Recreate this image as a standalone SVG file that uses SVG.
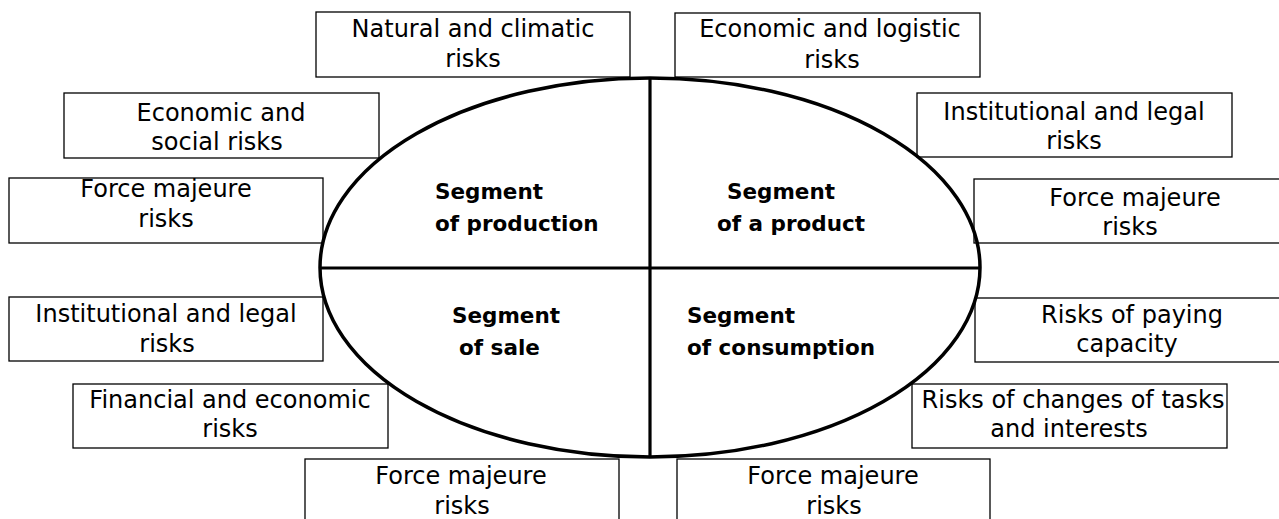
<svg xmlns="http://www.w3.org/2000/svg" width="1279" height="519" viewBox="0 0 1279 519">
<style>
.box{fill:#fff;stroke:#000;stroke-width:1.3}
.t{font-family:"DejaVu Sans","Liberation Sans",sans-serif;font-size:24px;fill:#000;text-anchor:middle}
.b{font-family:"DejaVu Sans","Liberation Sans",sans-serif;font-size:21.5px;font-weight:bold;fill:#000}
.el{fill:none;stroke:#000;stroke-width:3.5}
.ln{stroke:#000;stroke-width:3.2}
</style>
<rect width="1279" height="519" fill="#fff"/>
<g id="n-natural"><rect class="box" x="316" y="12" width="314" height="65"/><text class="t" x="473" y="37">Natural and climatic</text><text class="t" x="473" y="67">risks</text></g>
<g id="n-econ-logistic"><rect class="box" x="675" y="13" width="305" height="64"/><text class="t" x="830" y="37">Economic and logistic</text><text class="t" x="832" y="68">risks</text></g>
<g id="n-econ-social"><rect class="box" x="64" y="93" width="315" height="65"/><text class="t" x="221" y="121">Economic and</text><text class="t" x="217" y="150">social risks</text></g>
<g id="n-force-l"><rect class="box" x="9" y="178" width="314" height="65"/><text class="t" x="166" y="197">Force majeure</text><text class="t" x="166" y="227">risks</text></g>
<g id="n-inst-r"><rect class="box" x="917" y="93" width="315" height="64"/><text class="t" x="1074" y="120">Institutional and legal</text><text class="t" x="1074" y="149">risks</text></g>
<g id="n-force-r"><rect class="box" x="974" y="179" width="310" height="64"/><text class="t" x="1135" y="206">Force majeure</text><text class="t" x="1130" y="235">risks</text></g>
<g id="n-inst-l"><rect class="box" x="9" y="297" width="314" height="64"/><text class="t" x="166" y="322">Institutional and legal</text><text class="t" x="167" y="352">risks</text></g>
<g id="n-financial"><rect class="box" x="73" y="384" width="315" height="64"/><text class="t" x="230" y="408">Financial and economic</text><text class="t" x="230" y="437">risks</text></g>
<g id="n-paying"><rect class="box" x="975" y="298" width="310" height="64"/><text class="t" x="1132" y="323">Risks of paying</text><text class="t" x="1127" y="352">capacity</text></g>
<g id="n-changes"><rect class="box" x="912" y="384" width="315" height="64"/><text class="t" x="1073" y="408">Risks of changes of tasks</text><text class="t" x="1069" y="437">and interests</text></g>
<g id="n-force-bl"><rect class="box" x="305" y="459" width="314" height="70"/><text class="t" x="461" y="484">Force majeure</text><text class="t" x="462" y="514">risks</text></g>
<g id="n-force-br"><rect class="box" x="677" y="459" width="313" height="70"/><text class="t" x="833" y="484">Force majeure</text><text class="t" x="834" y="514">risks</text></g>
<g id="connectors">
<ellipse class="el" cx="650" cy="267.5" rx="330" ry="189.5"/>
<line class="ln" x1="650" y1="78" x2="650" y2="457"/>
<line class="ln" x1="320" y1="268" x2="980" y2="268"/>
</g>
<g id="s-production"><text class="b" x="435" y="199">Segment</text><text class="b" x="435" y="231">of production</text></g>
<g id="s-product"><text class="b" x="727" y="199">Segment</text><text class="b" x="717" y="231">of a product</text></g>
<g id="s-sale"><text class="b" x="452" y="323">Segment</text><text class="b" x="459" y="355">of sale</text></g>
<g id="s-consumption"><text class="b" x="687" y="323">Segment</text><text class="b" x="687" y="355">of consumption</text></g>
</svg>
